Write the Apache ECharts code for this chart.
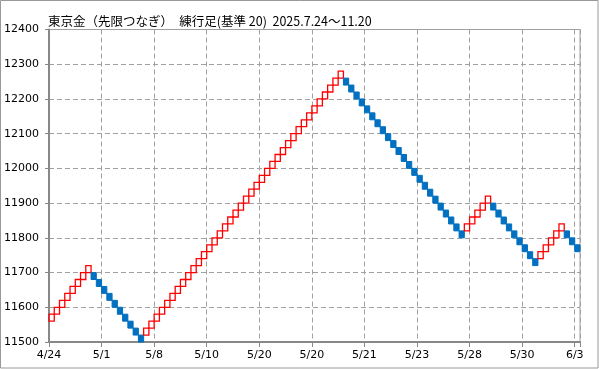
<!DOCTYPE html>
<html>
<head>
<meta charset="utf-8">
<script src="https://cdn.jsdelivr.net/npm/echarts@6/dist/echarts.min.js"></script>
<style>html,body{margin:0;padding:0;background:#fff}#c{width:599px;height:369px}</style>
</head>
<body>
<div id="c"></div>
<script>
const titleText = '東京金（先限つなぎ）　練行足(基準 20)  2025.7.24～11.20';
const categories = ['4/24','5/1','5/8','5/10','5/20','5/20','5/21','5/23','5/28','5/30','6/3'];
const yTicks = [11500,11600,11700,11800,11900,12000,12100,12200,12300,12400];
const BRICK = 20;
const brickLow = [
  11560,11580,11600,11620,11640,11660,11680,11700,
  11680,11660,11640,11620,11600,11580,11560,11540,11520,11500,
  11520,11540,11560,11580,11600,11620,11640,11660,11680,11700,
  11720,11740,11760,11780,11800,11820,11840,11860,11880,11900,
  11920,11940,11960,11980,12000,12020,12040,12060,12080,12100,
  12120,12140,12160,12180,12200,12220,12240,12260,
  12240,12220,12200,12180,12160,12140,12120,12100,12080,12060,
  12040,12020,12000,11980,11960,11940,11920,11900,11880,11860,
  11840,11820,11800,
  11820,11840,11860,11880,11900,
  11880,11860,11840,11820,11800,11780,11760,11740,11720,
  11740,11760,11780,11800,11820,
  11800,11780,11760
];
const brickDir = [
  'U','U','U','U','U','U','U','U',
  'D','D','D','D','D','D','D','D','D','D',
  'U','U','U','U','U','U','U','U','U','U',
  'U','U','U','U','U','U','U','U','U','U',
  'U','U','U','U','U','U','U','U','U','U',
  'U','U','U','U','U','U','U','U',
  'D','D','D','D','D','D','D','D','D','D',
  'D','D','D','D','D','D','D','D','D','D',
  'D','D','D',
  'U','U','U','U','U',
  'D','D','D','D','D','D','D','D','D',
  'U','U','U','U','U',
  'D','D','D'
];

const data = brickLow.map((v, i) => [i, v, v + BRICK, brickDir[i] === 'U' ? 1 : 0]);
const chart = echarts.init(document.getElementById('c'), null, {renderer: 'canvas'});
const font = 'DejaVu Sans';
chart.setOption({
  animation: false,
  backgroundColor: '#fff',
  title: {
    text: titleText, left: 43, top: 10,
    textStyle: {fontFamily: 'Noto Sans CJK JP', fontSize: 12.5, fontWeight: 'normal', color: '#000'}
  },
  graphic: [{
    type: 'rect', shape: {x: 0.5, y: 0.5, width: 597.5, height: 367.5},
    style: {fill: 'none', stroke: '#999', lineWidth: 1}, silent: true, z: 100
  }],
  grid: {left: 49, right: 19, top: 29.5, bottom: 27, show: true, borderColor: '#a0a0a0', borderWidth: 1, containLabel: false},
  xAxis: {
    type: 'value', min: 0, max: 101, interval: 10,
    axisLine: {show: true, onZero: false, lineStyle: {color: '#888', width: 2}},
    axisTick: {show: true, length: 5, lineStyle: {color: '#888'}},
    axisLabel: {
      margin: 8, color: '#000', fontFamily: font, fontSize: 11, showMaxLabel: true,
      formatter: v => (v % 10 === 0 && categories[v / 10] !== undefined) ? categories[v / 10] : ''
    },
    splitLine: {show: true, lineStyle: {color: '#a0a0a0', type: [5, 3], width: 1}}
  },
  yAxis: {
    type: 'value', min: yTicks[0], max: yTicks[yTicks.length - 1], interval: 100,
    axisLine: {show: true, onZero: false, lineStyle: {color: '#888', width: 2}},
    axisTick: {show: true, length: 4, lineStyle: {color: '#888'}},
    axisLabel: {margin: 10, color: '#000', fontFamily: font, fontSize: 11, formatter: v => String(v)},
    splitLine: {show: true, lineStyle: {color: '#a0a0a0', type: [5, 3], width: 1}}
  },
  series: [{
    type: 'custom',
    data: data,
    encode: {x: 0, y: [1, 2]},
    renderItem: function (params, api) {
      const x = api.value(0), lo = api.value(1), hi = api.value(2), up = api.value(3);
      const p1 = api.coord([x, hi]);
      const p2 = api.coord([x + 1, lo]);
      const w = p2[0] - p1[0], h = p2[1] - p1[1];
      if (up) {
        return {type: 'rect', shape: {x: p1[0], y: p1[1], width: w, height: h},
          style: {fill: 'rgba(255,255,255,0)', stroke: '#ff0000', lineWidth: 1.3}};
      }
      return {type: 'rect', shape: {x: p1[0], y: p1[1], width: w, height: h},
        style: {fill: '#0070c0', stroke: '#0070c0', lineWidth: 1}};
    }
  }]
});
</script>
</body>
</html>
